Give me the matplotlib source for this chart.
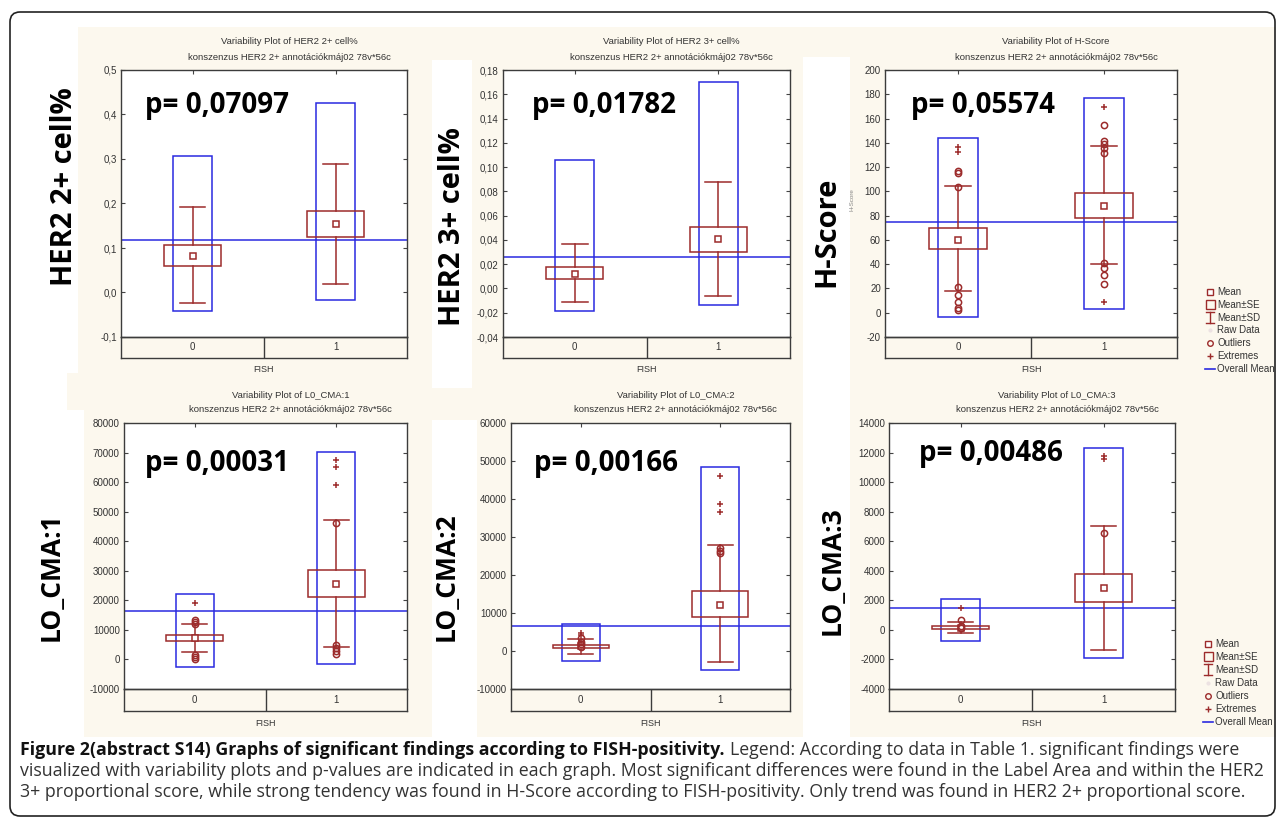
import numpy as np
import matplotlib
matplotlib.use("Agg")
import matplotlib.pyplot as plt
from matplotlib.patches import Rectangle, FancyBboxPatch
from matplotlib.ticker import MultipleLocator, FuncFormatter

W, H = 1282, 821

# ---------------------------------------------------------------
#   values of the six variability plots (group 0 / group 1 of FISH)
# ---------------------------------------------------------------
plot_vars = ["HER2 2+ cell%", "HER2 3+ cell%", "H-Score", "L0_CMA:1", "L0_CMA:2", "L0_CMA:3"]
big_labels = ["HER2 2+ cell%", "HER2 3+ cell%", "H-Score", "LO_CMA:1", "LO_CMA:2", "LO_CMA:3"]
p_values = ["0,07097", "0,01782", "0,05574", "0,00031", "0,00166", "0,00486"]
groups = ["0", "1"]

means = [[0.082, 0.154], [0.012, 0.0405], [60, 88], [7100, 25500], [1200, 12200], [150, 2820]]
se_low = [[0.060, 0.125], [0.0078, 0.030], [52.5, 78], [6100, 21050], [800, 8900], [30, 1920]]
se_high = [[0.107, 0.183], [0.0177, 0.0506], [70, 99], [8200, 30300], [1650, 15700], [250, 3770]]
sd_low = [[-0.024, 0.019], [-0.0112, -0.0065], [18, 40], [2400, 4300], [-700, -3000], [-200, -1350]]
sd_high = [[0.192, 0.289], [0.0366, 0.0877], [104.5, 137.5], [12050, 47150], [3100, 27800], [520, 7050]]
range_low = [[-0.042, -0.017], [-0.0186, -0.0136], [-3.5, 3], [-2600, -1450], [-2650, -5100], [-760, -1900]]
range_high = [[0.307, 0.426], [0.106, 0.170], [144, 177], [22200, 70300], [7050, 48450], [2080, 12300]]
overall_mean = [0.118, 0.0259, 74.5, 16300, 6600, 1470]

outliers = [
    [[], []],
    [[], []],
    [[103.3, 116.5, 114.9, 21, 14.6, 9, 3.6, 2.3], [154.7, 141.8, 139, 135.5, 131.9, 40.7, 37, 31, 23.4]],
    [[13500, 12700, 12000, 1500, 800, 300], [46000, 4800, 3800, 2800, 1800]],
    [[3300, 2500, 1800, 1000], [27000, 26300, 25700]],
    [[650, 250, 100], [6550]],
]
extremes = [
    [[], []],
    [[], []],
    [[136.8, 132.7], [169.8, 8.6]],
    [[19250], [67500, 65000, 58900]],
    [[4800, 4200], [46000, 38700, 36500]],
    [[1500], [11750, 11550]],
]

y_limits = [(-0.1, 0.5), (-0.04, 0.18), (-20, 200), (-10000, 80000), (-10000, 60000), (-4000, 14000)]
y_steps = [0.1, 0.02, 20, 10000, 10000, 2000]
y_decimals = [1, 2, 0, 0, 0, 0]

legend_items = ["Mean", "Mean±SE", "Mean±SD", "Raw Data", "Outliers", "Extremes", "Overall Mean"]

caption_bold = "Figure 2(abstract S14) Graphs of significant findings according to FISH-positivity."
caption_lines = [
    "Legend: According to data in Table 1. significant findings were",
    "visualized with variability plots and p-values are indicated in each graph. Most significant differences were found in the Label Area and within the HER2",
    "3+ proportional score, while strong tendency was found in H-Score according to FISH-positivity. Only trend was found in HER2 2+ proportional score.",
]

# ---------------------------------------------------------------
#   layout (pixels)
# ---------------------------------------------------------------
# left, right, top, data bottom, strip bottom
boxes = [(121, 407, 70, 337, 358), (503, 790, 70, 337, 358), (885, 1177, 70, 337, 358),
         (124, 407, 423, 689, 711), (511, 790, 423, 689, 711), (889, 1175, 423, 689, 711)]
label_xy = [(64, 187), (452, 227), (827, 232), (51, 577), (446, 577), (832, 571)]
label_size = [21, 21, 21, 19, 19, 19]
p_xy = [(145, 106), (532, 105), (911, 106), (145, 464), (534, 464), (919, 454)]
beige_rects = [(78, 27, 432, 388), (67, 373, 432, 410), (84, 410, 432, 737),
               (432, 27, 803, 60), (472, 60, 803, 388), (432, 388, 803, 420), (477, 420, 803, 737),
               (803, 27, 850, 57), (850, 27, 1276, 388), (850, 388, 1276, 737)]

RED = "#9c2b2b"
BLUE = "#2a2ae0"
BEIGE = "#fcf8ee"
FRAME = "#3c3c3c"
SMALL = "Liberation Sans"
BIG = "Open Sans"

fig = plt.figure(figsize=(W / 100, H / 100), dpi=100)


def add_px_axes(l, r, t, b, z):
    return fig.add_axes([l / W, 1 - b / H, (r - l) / W, (b - t) / H], zorder=z)


bg = add_px_axes(0, W, 0, H, 0)
bg.set_xlim(0, W)
bg.set_ylim(H, 0)
bg.axis("off")
for x0, y0, x1, y1 in beige_rects:
    bg.add_patch(Rectangle((x0, y0), x1 - x0, y1 - y0, color=BEIGE, lw=0))
bg.add_patch(FancyBboxPatch((10, 12), 1265, 804, boxstyle="round,pad=0,rounding_size=10",
                            fill=False, ec="#222222", lw=1.2))

front = add_px_axes(0, W, 0, H, 10)
front.set_xlim(0, W)
front.set_ylim(H, 0)
front.axis("off")
front.patch.set_alpha(0)


def comma_fmt(d):
    return FuncFormatter(lambda v, pos: f"{round(v, d) + 0.0:.{d}f}".replace(".", ","))


for i in range(6):
    l, r, t, b, sb = boxes[i]
    ax = add_px_axes(l, r, t, b, 2)
    ax.set_facecolor("white")
    ax.set_xlim(-0.5, 1.5)
    ax.set_ylim(*y_limits[i])
    for g in range(2):
        ax.add_patch(Rectangle((g - 0.135, range_low[i][g]), 0.27, range_high[i][g] - range_low[i][g],
                               fill=False, ec=BLUE, lw=1.1, zorder=2))
        ax.add_patch(Rectangle((g - 0.2, se_low[i][g]), 0.4, se_high[i][g] - se_low[i][g],
                               fill=False, ec=RED, lw=1.1, zorder=3))
        ax.plot([g, g], [se_high[i][g], sd_high[i][g]], color=RED, lw=1.1, zorder=3)
        ax.plot([g, g], [sd_low[i][g], se_low[i][g]], color=RED, lw=1.1, zorder=3)
        for v in (sd_low[i][g], sd_high[i][g]):
            ax.plot([g - 0.09, g + 0.09], [v, v], color=RED, lw=1.1, zorder=3)
        ax.plot(g, means[i][g], "s", ms=4.5, mfc="white", mec=RED, mew=1.1, zorder=4)
        if outliers[i][g]:
            ax.plot([g] * len(outliers[i][g]), outliers[i][g], "o", ms=4.5, mfc="none",
                    mec=RED, mew=1.1, zorder=4)
        if extremes[i][g]:
            ax.plot([g] * len(extremes[i][g]), extremes[i][g], "+", ms=5, color=RED,
                    mew=1.1, zorder=4)
    ax.axhline(overall_mean[i], color=BLUE, lw=1.1, zorder=2)

    ax.yaxis.set_major_locator(MultipleLocator(y_steps[i]))
    ax.yaxis.set_major_formatter(comma_fmt(y_decimals[i]))
    ax.set_xticks([0, 1])
    ax.tick_params(direction="in", length=3, width=0.8, color="#444444", left=True, right=True,
                   top=True, bottom=False, labelbottom=False, labelsize=7, pad=3,
                   labelcolor="#333333")
    for lab in ax.get_yticklabels():
        lab.set_fontfamily(SMALL)
    for s in ax.spines.values():
        s.set_color(FRAME)
        s.set_linewidth(1.0)

    # category strip under the plot
    sax = add_px_axes(l, r, b, sb, 2)
    sax.set_xlim(-0.5, 1.5)
    sax.set_ylim(0, 1)
    sax.patch.set_alpha(0)
    sax.set_xticks([])
    sax.set_yticks([])
    sax.axvline(0.5, color=FRAME, lw=1.0)
    for s in sax.spines.values():
        s.set_color(FRAME)
        s.set_linewidth(1.0)
    for g in range(2):
        sax.text(g, 0.5, groups[g], ha="center", va="center", fontsize=7,
                 family=SMALL, color="#333333")

    cx = (l + r) / 2
    front.text(cx, sb + 12, "FISH", ha="center", va="center", fontsize=6.5, family=SMALL,
               color="#333333")
    front.text(cx + 25, t - 28, "Variability Plot of " + plot_vars[i], ha="center", va="center",
               fontsize=6.8, family=SMALL, color="#333333")
    front.text(cx + 25, t - 13, "konszenzus HER2 2+ annotációkmáj02 78v*56c", ha="center",
               va="center", fontsize=6.8, family=SMALL, color="#333333")

    lx, ly = label_xy[i]
    front.text(lx, ly, big_labels[i], rotation=90, ha="center", va="center",
               fontsize=label_size[i], family=BIG, fontweight="bold", color="black")
    px, py = p_xy[i]
    front.text(px, py, "p= " + p_values[i], ha="left", va="center", fontsize=20,
               family=BIG, fontweight="bold", color="black")

# tiny original axis name left of the H-Score plot
front.text(852, 200, "H-Score", rotation=90, ha="center", va="center", fontsize=4.5,
           family=SMALL, color="#888888")


def draw_legend(x, y0, dy):
    for k, name in enumerate(legend_items):
        y = y0 + k * dy
        if k == 0:
            front.plot(x, y, "s", ms=4, mfc="white", mec=RED, mew=1.0)
        elif k == 1:
            front.add_patch(Rectangle((x - 4.5, y - 4.5), 9, 9, fill=False, ec=RED, lw=1.0))
        elif k == 2:
            front.plot([x, x], [y - 5.5, y + 5.5], color=RED, lw=1.0)
            front.plot([x - 4, x + 4], [y - 5.5, y - 5.5], color=RED, lw=1.0)
            front.plot([x - 4, x + 4], [y + 5.5, y + 5.5], color=RED, lw=1.0)
        elif k == 3:
            front.plot(x, y, ".", ms=4, color="#ece2e2")
        elif k == 4:
            front.plot(x, y, "o", ms=4, mfc="none", mec=RED, mew=1.0)
        elif k == 5:
            front.plot(x, y, "+", ms=4.5, color=RED, mew=1.0)
        else:
            front.plot([x - 5, x + 5], [y, y], color=BLUE, lw=1.2)
        front.text(x + 7, y, name, ha="left", va="center", fontsize=7, family=SMALL,
                   color="#333333")


draw_legend(1210, 292, 12.8)
draw_legend(1208, 644, 13)

# caption, sized so the last line fills the text width
renderer = fig.canvas.get_renderer()
probe = fig.text(0, 0, caption_lines[2], fontsize=10, family=BIG)
width = probe.get_window_extent(renderer).width
probe.remove()
cap_size = 10 * 1220 / width

t0 = fig.text(20 / W, 1 - 755 / H, caption_bold, fontsize=cap_size, family=BIG,
              fontweight="bold", color="#111111", va="baseline")
x_end = t0.get_window_extent(renderer).x1
fig.text((x_end + 5) / W, 1 - 755 / H, caption_lines[0], fontsize=cap_size, family=BIG,
         color="#333333", va="baseline")
fig.text(20 / W, 1 - 776 / H, caption_lines[1], fontsize=cap_size, family=BIG,
         color="#333333", va="baseline")
fig.text(20 / W, 1 - 797 / H, caption_lines[2], fontsize=cap_size, family=BIG,
         color="#333333", va="baseline")

fig.savefig("out.png", dpi=100, facecolor="white")
